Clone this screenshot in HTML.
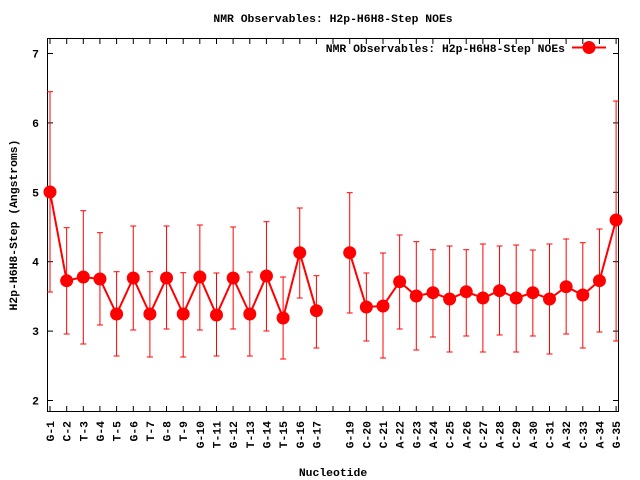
<!DOCTYPE html>
<html><head><meta charset="utf-8"><style>body{margin:0;background:#fff}svg{display:block}text{font-family:"Liberation Mono","DejaVu Sans Mono",monospace;font-weight:bold;font-size:11.4px;fill:#000}</style></head>
<body>
<svg id="s" width="640" height="480" xmlns="http://www.w3.org/2000/svg">
<rect x="0" y="0" width="640" height="480" fill="#fff"/>
<text x="333" y="22" text-anchor="middle">NMR Observables: H2p-H6H8-Step NOEs</text>
<text x="565" y="52" text-anchor="end">NMR Observables: H2p-H6H8-Step NOEs</text>
<line x1="572" y1="47.5" x2="606" y2="47.5" stroke="#f00" stroke-width="2"/>
<circle cx="589" cy="47.5" r="6.5" fill="#f00"/>
<text x="333" y="476" text-anchor="middle">Nucleotide</text>
<text transform="translate(17,225) rotate(-90)" text-anchor="middle">H2p-H6H8-Step (Angstroms)</text>
<rect x="47.5" y="38.5" width="571" height="373" fill="none" stroke="#000" stroke-width="1"/>
<g id="g"></g>
</svg>
<script>
var g=document.getElementById('g'),h='';
function Y(v){return 400.5-(v-2)*69.4;}
for(var v=2;v<=7;v++){var y=Y(v).toFixed(1);h+='<line x1="47.5" y1="'+y+'" x2="53" y2="'+y+'" stroke="#000"/><line x1="613" y1="'+y+'" x2="618.5" y2="'+y+'" stroke="#000"/><text x="39" y="'+(Y(v)+4)+'" text-anchor="end">'+v+'</text>';}
var L=['G-1','C-2','T-3','G-4','T-5','G-6','T-7','G-8','T-9','G-10','T-11','G-12','T-13','G-14','T-15','G-16','G-17','','G-19','C-20','C-21','A-22','G-23','A-24','C-25','A-26','C-27','A-28','C-29','A-30','C-31','A-32','C-33','A-34','G-35'];
var D=[[192,91.7,292],[280.7,227.7,334],[277,210.7,344],[279,232.7,325],[314,271.7,356],[278,226,330],[314,271.7,357],[278,226,329],[314,272.7,357],[277,225,330],[315,273,356],[278,227,329],[314,272,356],[276,221.7,331],[318,277,359],[252.7,208,298],[310.7,275.7,348],null,[252.7,192.7,313],[307,273,341],[306,253,358],[281.7,235,329],[296,241.7,350],[292.7,249.7,337],[299,246,352],[291.7,249.7,336],[298,244,352],[290.7,246,335],[298,245,352],[292.7,250,336],[299,244,354],[286.7,239,334],[295,242.7,348],[280.7,229,332],[220,101,341]];
function X(i){return 50+i*16.65;}
for(var i=0;i<35;i++){var x=X(i).toFixed(1);
h+='<line x1="'+x+'" y1="411.5" x2="'+x+'" y2="406" stroke="#000"/><line x1="'+x+'" y1="38.5" x2="'+x+'" y2="44" stroke="#000"/>';
if(L[i])h+='<text transform="translate('+(X(i)+4)+',421) rotate(-90)" text-anchor="end">'+L[i]+'</text>';}
var p1=[],p2=[];
for(var i=0;i<35;i++){var d=D[i];if(!d)continue;var x=X(i);
h+='<line x1="'+x+'" y1="'+d[1]+'" x2="'+x+'" y2="'+d[2]+'" stroke="#f00"/><line x1="'+(x-3)+'" y1="'+d[1]+'" x2="'+(x+3)+'" y2="'+d[1]+'" stroke="#f00"/><line x1="'+(x-3)+'" y1="'+d[2]+'" x2="'+(x+3)+'" y2="'+d[2]+'" stroke="#f00"/>';
(i<17?p1:p2).push(x+','+d[0]);}
h+='<polyline points="'+p1.join(' ')+'" fill="none" stroke="#f00" stroke-width="2"/><polyline points="'+p2.join(' ')+'" fill="none" stroke="#f00" stroke-width="2"/>';
for(var i=0;i<35;i++){var d=D[i];if(!d)continue;h+='<circle cx="'+X(i)+'" cy="'+d[0]+'" r="6.5" fill="#f00"/>';}
g.innerHTML=h;
</script>
</body></html>
